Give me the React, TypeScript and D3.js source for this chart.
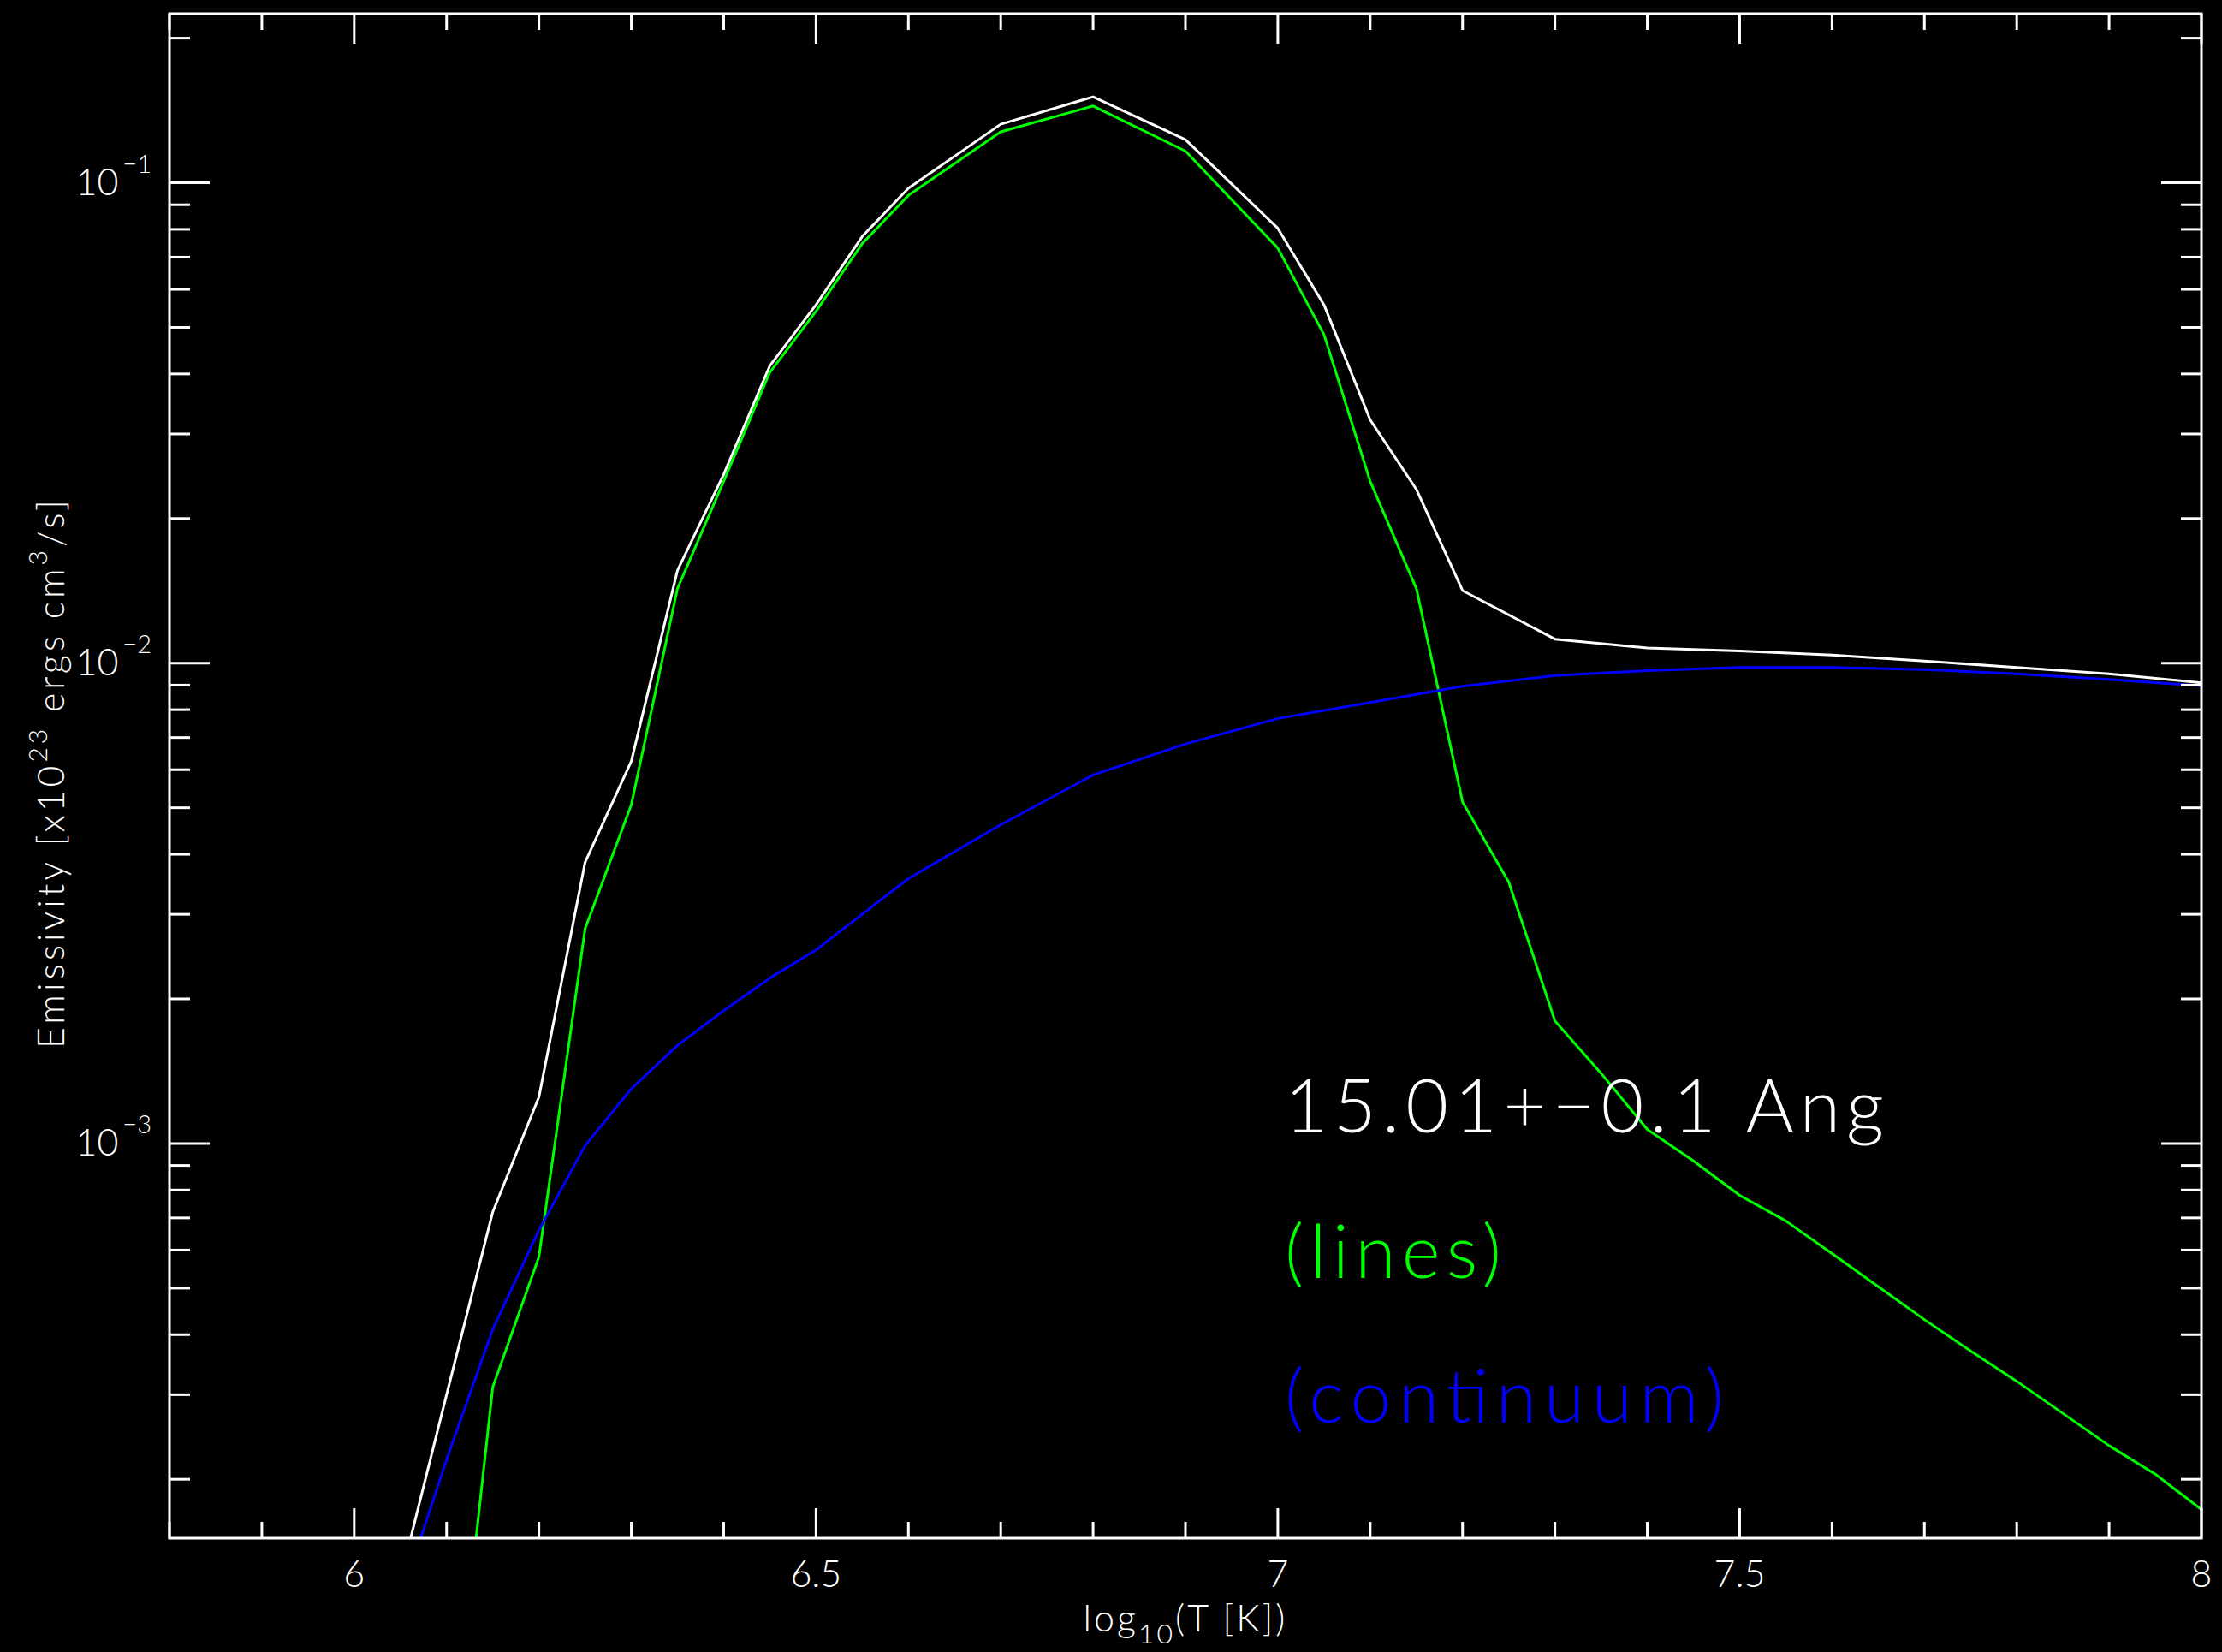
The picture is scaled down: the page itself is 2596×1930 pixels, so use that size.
import { useEffect } from 'react'
import * as d3 from 'd3'

// log10(T) grids and emissivities [x1e23 erg cm^3/s]
const totalT = [6.05, 6.1, 6.15, 6.2, 6.25, 6.3, 6.35, 6.4, 6.45, 6.5, 6.55, 6.6, 6.7, 6.8, 6.9, 7.0, 7.05, 7.1, 7.15, 7.2, 7.3, 7.4, 7.5, 7.6, 7.7, 7.8, 7.9, 8.0]
const totalEm = [1.24e-4, 3.0e-4, 7.2e-4, 1.25e-3, 3.85e-3, 6.25e-3, 0.0156, 0.0247, 0.0416, 0.0557, 0.0773, 0.0974, 0.1324, 0.151, 0.123, 0.0804, 0.0557, 0.0321, 0.023, 0.01416, 0.01122, 0.01075, 0.0106, 0.0104, 0.0101, 0.0098, 0.0095, 0.0091]

const linesT = [6.1, 6.15, 6.2, 6.25, 6.3, 6.35, 6.4, 6.45, 6.5, 6.55, 6.6, 6.7, 6.8, 6.9, 7.0, 7.05, 7.1, 7.15, 7.2, 7.25, 7.3, 7.35, 7.4, 7.45, 7.5, 7.55, 7.6, 7.7, 7.75, 7.8, 7.9, 7.95, 8.0]
const linesEm = [4.2e-5, 3.11e-4, 5.81e-4, 2.8e-3, 5.07e-3, 0.0143, 0.0239, 0.0403, 0.054, 0.0747, 0.0941, 0.1277, 0.1445, 0.1164, 0.0731, 0.0483, 0.0239, 0.0143, 5.14e-3, 3.5e-3, 1.8e-3, 1.4e-3, 1.07e-3, 9.2e-4, 7.8e-4, 6.9e-4, 5.9e-4, 4.3e-4, 3.7e-4, 3.2e-4, 2.35e-4, 2.05e-4, 1.73e-4]

const contT = [6.05, 6.1, 6.15, 6.2, 6.25, 6.3, 6.35, 6.4, 6.45, 6.5, 6.55, 6.6, 6.7, 6.8, 6.9, 7.0, 7.1, 7.2, 7.3, 7.4, 7.5, 7.6, 7.7, 7.8, 7.9, 8.0]
const contEm = [1.12e-4, 2.2e-4, 4.1e-4, 6.6e-4, 9.9e-4, 1.3e-3, 1.6e-3, 1.89e-3, 2.21e-3, 2.53e-3, 3.0e-3, 3.56e-3, 4.61e-3, 5.85e-3, 6.79e-3, 7.67e-3, 8.28e-3, 8.95e-3, 9.42e-3, 9.65e-3, 9.8e-3, 9.8e-3, 9.7e-3, 9.5e-3, 9.25e-3, 8.97e-3]

const xLabels = [6, 6.5, 7, 7.5, 8]
const yDecades = [-3, -2, -1]
const annotations = ['15.01+−0.1 Ang', '(lines)', '(continuum)']

const W = 2596
const H = 1930
const left = 198
const right = 2572
const top = 16
const bottom = 1797
const font = 'Lato, "Open Sans", "Liberation Sans", sans-serif'

export default function App() {
  useEffect(() => {
    document.body.style.margin = '0'
    document.body.style.background = '#000'
  }, [])

  const x = d3.scaleLinear().domain([5.8, 8.0]).range([left, right])
  const y = d3.scaleLog().domain([1.508e-4, 0.2249]).range([bottom, top])
  const line = d3.line<[number, number]>().x(d => x(d[0])).y(d => y(d[1]))

  const series = [
    { t: totalT, v: totalEm, color: '#ffffff' },
    { t: linesT, v: linesEm, color: '#00ff00' },
    { t: contT, v: contEm, color: '#0000ff' },
  ]

  // minor ticks every 0.1, majors where labelled
  const xTicks = d3.range(0, 23).map(i => +(5.8 + i * 0.1).toFixed(1))
  const [yLo, yHi] = y.domain()
  const yTicks: { v: number; major: boolean }[] = []
  ;[-4, -3, -2, -1].forEach(e => {
    for (let m = 1; m <= 9; m++) {
      const v = m * Math.pow(10, e)
      if (v >= yLo && v <= yHi) yTicks.push({ v, major: m === 1 })
    }
  })

  const annColors = ['#ffffff', '#00ff00', '#0000ff']
  const annLen = [700, 253, 513]
  const annY = [1323, 1493, 1662]

  return (
    <svg width={W} height={H} style={{ display: 'block', background: '#000' }} fontFamily={font} fontWeight={300}>
      <rect width={W} height={H} fill="#000" />
      <defs>
        <clipPath id="plot">
          <rect x={left} y={top} width={right - left} height={bottom - top} />
        </clipPath>
      </defs>

      <g clipPath="url(#plot)" fill="none" strokeWidth={3} strokeLinejoin="round">
        {series.map((s, i) => (
          <path key={i} d={line(s.t.map((t, j) => [t, s.v[j]]) as [number, number][]) || ''} stroke={s.color} />
        ))}
      </g>

      <g stroke="#fff" strokeWidth={3}>
        <rect x={left} y={top} width={right - left} height={bottom - top} fill="none" />
        {xTicks.map(t => {
          const len = xLabels.includes(t) ? 35 : 19
          return (
            <g key={t}>
              <line x1={x(t)} x2={x(t)} y1={bottom} y2={bottom - len} />
              <line x1={x(t)} x2={x(t)} y1={top} y2={top + len} />
            </g>
          )
        })}
        {yTicks.map(({ v, major }) => {
          const len = major ? 47 : 24
          return (
            <g key={v}>
              <line x1={left} x2={left + len} y1={y(v)} y2={y(v)} />
              <line x1={right} x2={right - len} y1={y(v)} y2={y(v)} />
            </g>
          )
        })}
      </g>

      <g fill="#fff" fontSize={43}>
        {xLabels.map(t => (
          <text key={t} x={x(t)} y={bottom + 57} textAnchor="middle">{String(t)}</text>
        ))}
        {yDecades.map(e => (
          <text key={e} x={177} y={y(Math.pow(10, e)) + 14} textAnchor="end">
            10<tspan dx={5} dy={-26} fontSize={29}>{`−${-e}`}</tspan>
          </text>
        ))}
        <text x={1385} y={1906} textAnchor="middle" letterSpacing={3}>
          log<tspan dy={14} fontSize={32}>10</tspan><tspan dy={-14}>(T [K])</tspan>
        </text>
        <text transform={`translate(75,${(top + bottom) / 2 - 4}) rotate(-90)`} textAnchor="middle" letterSpacing={4}>
          Emissivity [x10<tspan dy={-20} fontSize={30}>23</tspan><tspan dy={20}>  ergs cm</tspan><tspan dy={-20} fontSize={30}>3</tspan><tspan dy={20}>/s]</tspan>
        </text>
      </g>

      <g fontSize={86}>
        {annotations.map((a, i) => (
          <text key={a} x={1501} y={annY[i]} fill={annColors[i]} textLength={annLen[i]} lengthAdjust="spacing">{a}</text>
        ))}
      </g>
    </svg>
  )
}
